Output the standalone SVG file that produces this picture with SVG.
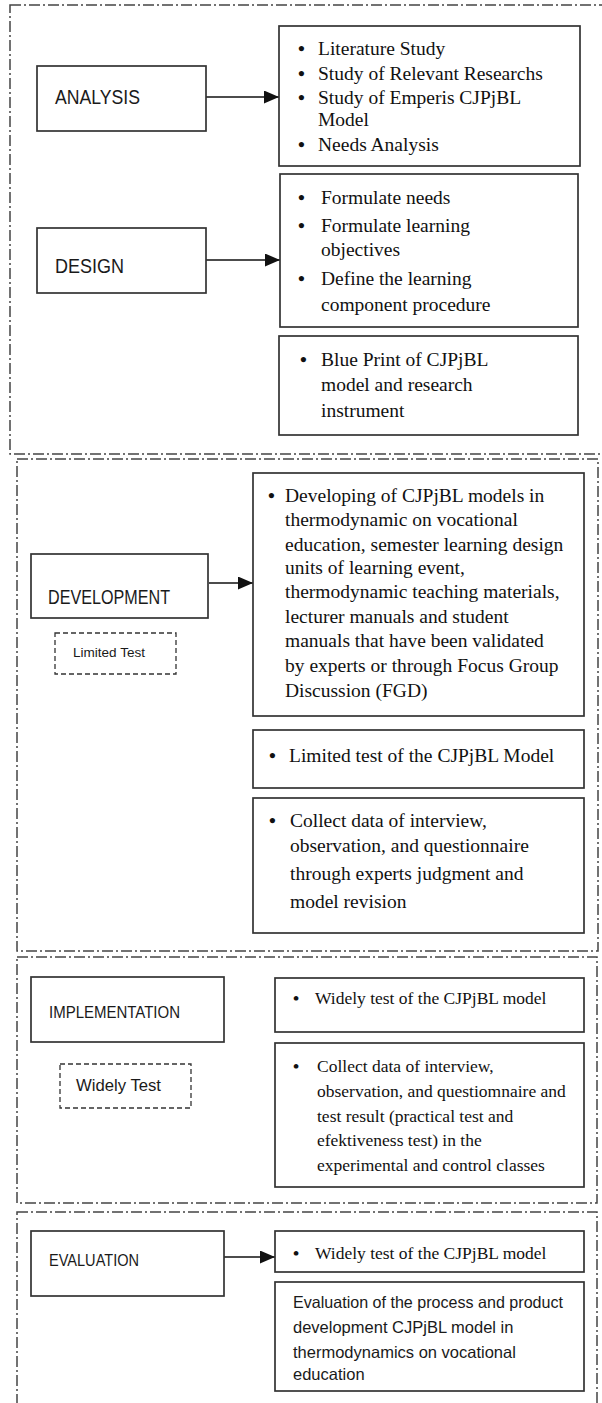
<svg xmlns="http://www.w3.org/2000/svg" width="602" height="1403" viewBox="0 0 602 1403">
<style>
.frame{fill:none;stroke:#444;stroke-width:1.5;stroke-dasharray:11 3 2 3}
.box{fill:#fff;stroke:#333;stroke-width:1.7}
.dbox{fill:none;stroke:#333;stroke-width:1.3;stroke-dasharray:5 3}
.lbl{font-family:"Liberation Sans",Arial,sans-serif;font-size:20px;fill:#1a1a1a}
.ser{font-family:"Liberation Serif","Times New Roman",serif;font-size:19.5px;fill:#111}
.sm{font-size:17.5px}
.bul{font-weight:bold}
.san{font-family:"Liberation Sans",Arial,sans-serif;font-size:16.5px;fill:#1a1a1a}
.conn{fill:none;stroke:#111;stroke-width:1.6}
</style>
<defs>
<marker id="ah" markerWidth="15" markerHeight="13" refX="15" refY="6.5" orient="auto" markerUnits="userSpaceOnUse">
<path d="M0,0 L15,6.5 L0,13 z" fill="#111"/>
</marker>
</defs>
<rect width="602" height="1403" fill="#fff"/>
<g id="frames">
<rect class="frame" x="10" y="5" width="600" height="449"/>
<rect class="frame" x="17" y="459" width="581" height="492"/>
<rect class="frame" x="17" y="957" width="580" height="246"/>
<rect class="frame" x="17" y="1212" width="580" height="210"/>
</g>
<g id="connectors">
<line class="conn" x1="206" y1="97" x2="279" y2="97" marker-end="url(#ah)"/>
<line class="conn" x1="206" y1="260" x2="280" y2="260" marker-end="url(#ah)"/>
<line class="conn" x1="209" y1="583" x2="253" y2="583" marker-end="url(#ah)"/>
<line class="conn" x1="224" y1="1257" x2="275" y2="1257" marker-end="url(#ah)"/>
</g>
<g id="analysis">
<rect class="box" x="37" y="66" width="169" height="65"/>
<text class="lbl" x="55" y="104" textLength="85" lengthAdjust="spacingAndGlyphs">ANALYSIS</text>
</g>
<g id="analysis-list">
<rect class="box" x="279" y="26" width="301" height="140"/>
<g class="ser">
<text class="bul" x="298" y="55">•</text><text x="318" y="55">Literature Study</text>
<text class="bul" x="298" y="80">•</text><text x="318" y="80">Study of Relevant Researchs</text>
<text class="bul" x="298" y="104">•</text><text x="318" y="104">Study of Emperis CJPjBL</text>
<text x="318" y="126">Model</text>
<text class="bul" x="298" y="151">•</text><text x="318" y="151">Needs Analysis</text>
</g>
</g>
<g id="design">
<rect class="box" x="37" y="228" width="169" height="65"/>
<text class="lbl" x="55" y="273" textLength="69" lengthAdjust="spacingAndGlyphs">DESIGN</text>
</g>
<g id="design-list">
<rect class="box" x="280" y="174" width="298" height="153"/>
<g class="ser">
<text class="bul" x="298" y="204">•</text><text x="321" y="204">Formulate needs</text>
<text class="bul" x="298" y="232">•</text><text x="321" y="232">Formulate learning</text>
<text x="321" y="256">objectives</text>
<text class="bul" x="298" y="285">•</text><text x="321" y="285">Define the learning</text>
<text x="321" y="311">component procedure</text>
</g>
</g>
<g id="blueprint">
<rect class="box" x="279" y="336" width="299" height="99"/>
<g class="ser">
<text class="bul" x="300" y="366">•</text><text x="321" y="366">Blue Print of CJPjBL</text>
<text x="321" y="391">model and research</text>
<text x="321" y="417">instrument</text>
</g>
</g>
<g id="development">
<rect class="box" x="31" y="554" width="177" height="64"/>
<text class="lbl" x="48" y="604" textLength="122" lengthAdjust="spacingAndGlyphs">DEVELOPMENT</text>
</g>
<g id="limited-test">
<rect class="dbox" x="55" y="633" width="121" height="41"/>
<text class="lbl" x="73" y="657" style="font-size:13px" textLength="72" lengthAdjust="spacingAndGlyphs">Limited Test</text>
</g>
<g id="development-list">
<rect class="box" x="253" y="473" width="331" height="243"/>
<g class="ser">
<text class="bul" x="268" y="502">•</text><text x="285" y="502">Developing of CJPjBL models in</text>
<text x="285" y="526">thermodynamic on vocational</text>
<text x="285" y="551">education, semester learning design</text>
<text x="285" y="574">units of learning event,</text>
<text x="285" y="598">thermodynamic teaching materials,</text>
<text x="285" y="623">lecturer manuals and student</text>
<text x="285" y="647">manuals that have been validated</text>
<text x="285" y="672">by experts or through Focus Group</text>
<text x="285" y="697">Discussion (FGD)</text>
</g>
</g>
<g id="limited-test-model">
<rect class="box" x="253" y="730" width="331" height="58"/>
<g class="ser">
<text class="bul" x="269" y="762">•</text><text x="289" y="762">Limited test of the CJPjBL Model</text>
</g>
</g>
<g id="collect-dev">
<rect class="box" x="253" y="798" width="331" height="135"/>
<g class="ser">
<text class="bul" x="269" y="827">•</text><text x="290" y="827">Collect data of interview,</text>
<text x="290" y="852">observation, and questionnaire</text>
<text x="290" y="880">through experts judgment and</text>
<text x="290" y="908">model revision</text>
</g>
</g>
<g id="implementation">
<rect class="box" x="31" y="977" width="193" height="65"/>
<text class="lbl" x="49" y="1018" style="font-size:17px" textLength="131" lengthAdjust="spacingAndGlyphs">IMPLEMENTATION</text>
</g>
<g id="widely-test">
<rect class="dbox" x="60" y="1064" width="131" height="44"/>
<text class="lbl" x="76" y="1091" style="font-size:16px" textLength="85" lengthAdjust="spacingAndGlyphs">Widely Test</text>
</g>
<g id="impl-widely">
<rect class="box" x="275" y="978" width="309" height="54"/>
<g class="ser sm">
<text class="bul" x="293" y="1004">•</text><text x="315" y="1004">Widely test of the CJPjBL model</text>
</g>
</g>
<g id="impl-collect">
<rect class="box" x="275" y="1043" width="309" height="144"/>
<g class="ser sm">
<text class="bul" x="293" y="1072">•</text><text x="317" y="1072">Collect data of interview,</text>
<text x="317" y="1097">observation, and questiomnaire and</text>
<text x="317" y="1122">test result (practical test and</text>
<text x="317" y="1146">efektiveness test) in the</text>
<text x="317" y="1171">experimental and control classes</text>
</g>
</g>
<g id="evaluation">
<rect class="box" x="31" y="1231" width="193" height="65"/>
<text class="lbl" x="49" y="1266" style="font-size:17px" textLength="90" lengthAdjust="spacingAndGlyphs">EVALUATION</text>
</g>
<g id="eval-widely">
<rect class="box" x="275" y="1231" width="309" height="41"/>
<g class="ser sm">
<text class="bul" x="293" y="1259">•</text><text x="315" y="1259">Widely test of the CJPjBL model</text>
</g>
</g>
<g id="eval-text">
<rect class="box" x="275" y="1282" width="309" height="109"/>
<g class="san">
<text x="293" y="1308" textLength="270" lengthAdjust="spacingAndGlyphs">Evaluation of the process and product</text>
<text x="293" y="1333">development CJPjBL model in</text>
<text x="293" y="1358">thermodynamics on vocational</text>
<text x="293" y="1380">education</text>
</g>
</g>
</svg>
